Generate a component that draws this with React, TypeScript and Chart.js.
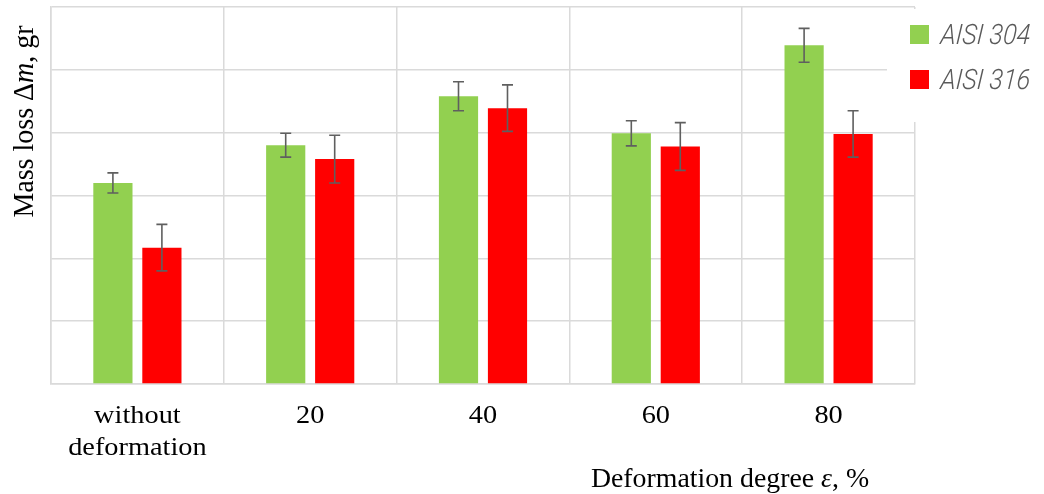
import { useEffect, useRef } from 'react';
import { Chart, registerables } from 'chart.js';

Chart.register(...registerables);

// Category labels (multi-line where needed)
const categories: string[][] = [['without', 'deformation'], ['20'], ['40'], ['60'], ['80']];
const seriesNames = ['AISI 304', 'AISI 316'];
const seriesColors = ['#92d050', '#ff0000'];

// Mean mass loss per deformation degree and its spread
const aisi304 = [3.2, 3.8, 4.58, 3.99, 5.39];
const aisi304Err = [0.16, 0.19, 0.23, 0.2, 0.27];
const aisi316 = [2.17, 3.58, 4.39, 3.78, 3.98];
const aisi316Err = [0.37, 0.38, 0.37, 0.38, 0.37];

// Value axis range / grid step (no numbers are printed on it)
const yMin = 0;
const yMax = 6;
const yStep = 1;

const serif = "'Liberation Serif', 'Times New Roman', serif";
const gridColor = '#dadada';

type Part = { text: string; italic?: boolean };

function drawParts(ctx: CanvasRenderingContext2D, parts: Part[], size: number, cx: number) {
  const widths = parts.map((p) => {
    ctx.font = `${p.italic ? 'italic ' : ''}${size}px ${serif}`;
    return ctx.measureText(p.text).width;
  });
  const total = widths.reduce((a, b) => a + b, 0);
  let x = cx - total / 2;
  parts.forEach((p, i) => {
    ctx.font = `${p.italic ? 'italic ' : ''}${size}px ${serif}`;
    ctx.fillText(p.text, x, 0);
    x += widths[i];
  });
}

const errorBarsPlugin = {
  id: 'errorBars',
  afterDatasetsDraw(chart: any) {
    const { ctx } = chart;
    const yScale = chart.scales.y;
    ctx.save();
    ctx.strokeStyle = '#5f5f5f';
    ctx.lineWidth = 1.6;
    chart.data.datasets.forEach((ds: any, d: number) => {
      const meta = chart.getDatasetMeta(d);
      meta.data.forEach((bar: any, i: number) => {
        const v = ds.data[i];
        const e = ds.errors[i];
        const yTop = yScale.getPixelForValue(v + e);
        const yBot = yScale.getPixelForValue(v - e);
        const half = 5.5;
        ctx.beginPath();
        ctx.moveTo(bar.x, yTop);
        ctx.lineTo(bar.x, yBot);
        ctx.moveTo(bar.x - half, yTop);
        ctx.lineTo(bar.x + half, yTop);
        ctx.moveTo(bar.x - half, yBot);
        ctx.lineTo(bar.x + half, yBot);
        ctx.stroke();
      });
    });
    ctx.restore();
  },
};

const textPlugin = {
  id: 'axisText',
  afterDraw(chart: any) {
    const { ctx, chartArea } = chart;
    const xScale = chart.scales.x;
    ctx.save();
    ctx.fillStyle = '#000';
    ctx.textBaseline = 'alphabetic';

    // category labels under the plot
    categories.forEach((lines, i) => {
      const x = xScale.getPixelForValue(i);
      lines.forEach((line, j) => {
        ctx.save();
        ctx.translate(x, chartArea.bottom + 39 + j * 32);
        ctx.scale(1.09, 1);
        ctx.font = `26px ${serif}`;
        ctx.textAlign = 'center';
        ctx.fillText(line, 0, 0);
        ctx.restore();
      });
    });

    // x axis title
    ctx.save();
    ctx.translate(730, chartArea.bottom + 103);
    ctx.scale(1.03, 1);
    ctx.textAlign = 'left';
    drawParts(ctx, [{ text: 'Deformation degree ' }, { text: 'ε', italic: true }, { text: ', %' }], 27, 0);
    ctx.restore();

    // y axis title
    ctx.save();
    ctx.translate(33, 121.5);
    ctx.scale(1.08, 1);
    ctx.rotate(-Math.PI / 2);
    ctx.textAlign = 'left';
    drawParts(ctx, [{ text: 'Mass loss Δ' }, { text: 'm', italic: true }, { text: ', gr' }], 28, 0);
    ctx.restore();

    // legend block laid over the top-right corner of the plot
    ctx.fillStyle = '#ffffff';
    ctx.fillRect(887, 9, 1044 - 887, 113);
    chart.data.datasets.forEach((ds: any, d: number) => {
      const top = 25 + d * 45;
      ctx.fillStyle = ds.backgroundColor;
      ctx.fillRect(910, top, 19, 19);
      ctx.save();
      ctx.translate(940, top + 18.5);
      // narrow, slanted lettering
      ctx.transform(0.9, 0, -0.08, 1, 0, 0);
      ctx.fillStyle = '#5a5a5a';
      ctx.font = `italic 300 28px Roboto, 'Noto Sans', sans-serif`;
      ctx.textAlign = 'left';
      ctx.fillText(ds.label, 0, 0);
      ctx.restore();
    });
    ctx.restore();
  },
};

export default function App() {
  const canvasRef = useRef<HTMLCanvasElement | null>(null);

  useEffect(() => {
    if (!canvasRef.current) return;
    const chart = new Chart(canvasRef.current, {
      type: 'bar',
      data: {
        labels: categories.map((c) => c.join(' ')),
        datasets: [
          {
            label: seriesNames[0],
            data: aisi304,
            errors: aisi304Err,
            backgroundColor: seriesColors[0],
            categoryPercentage: 0.567,
            barPercentage: 0.8,
          } as any,
          {
            label: seriesNames[1],
            data: aisi316,
            errors: aisi316Err,
            backgroundColor: seriesColors[1],
            categoryPercentage: 0.567,
            barPercentage: 0.8,
          } as any,
        ],
      },
      options: {
        animation: false,
        responsive: true,
        maintainAspectRatio: false,
        layout: { padding: { left: 51, right: 129, top: 7, bottom: 110 } },
        plugins: {
          legend: { display: false },
          tooltip: { enabled: false },
          title: { display: false },
        },
        scales: {
          x: {
            ticks: { display: false },
            grid: { color: gridColor, lineWidth: 1.5, drawTicks: false, offset: true },
            border: { color: gridColor, width: 1.5 },
          },
          y: {
            min: yMin,
            max: yMax,
            ticks: { display: false, stepSize: yStep },
            grid: { color: gridColor, lineWidth: 1.5, drawTicks: false },
            border: { color: gridColor, width: 1.5 },
          },
        },
      },
      plugins: [errorBarsPlugin, textPlugin],
    });
    return () => chart.destroy();
  }, []);

  return (
    <div style={{ position: 'fixed', left: 0, top: 0, width: 1044, height: 494, background: '#fff' }}>
      <canvas ref={canvasRef} />
    </div>
  );
}
